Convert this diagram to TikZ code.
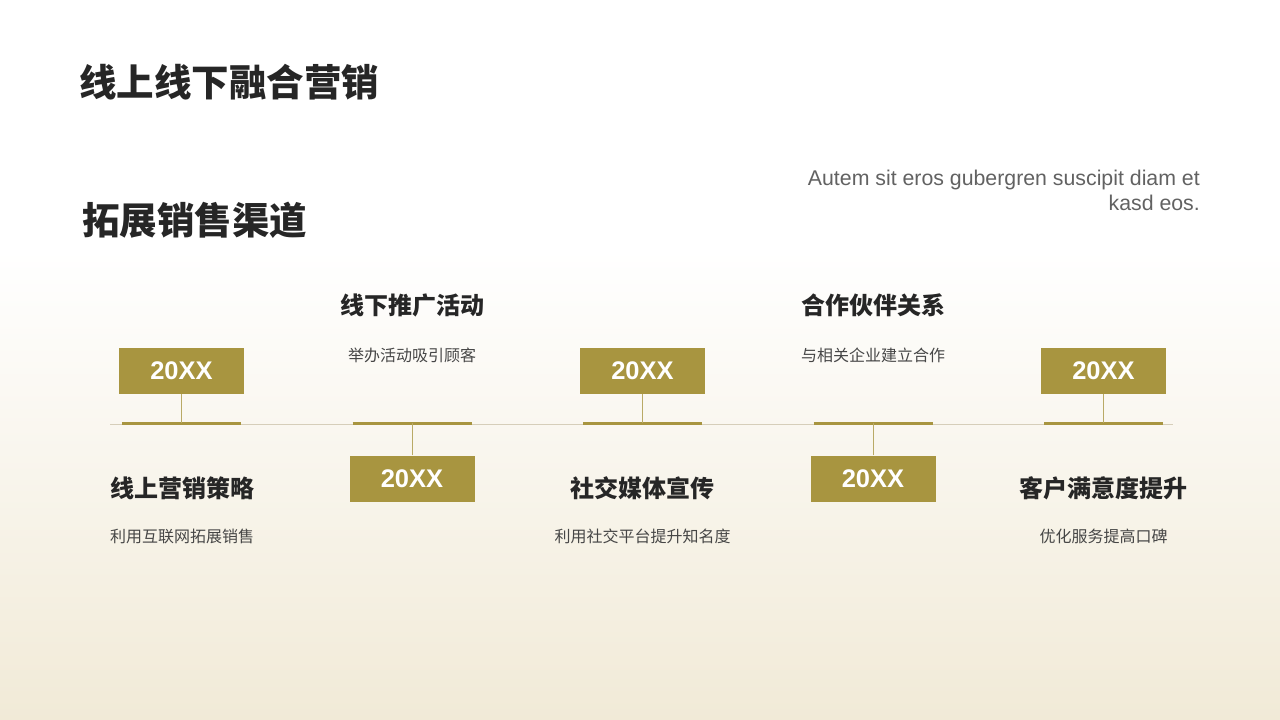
\documentclass[tikz,border=0pt]{standalone}
\usepackage{fontspec}
\setmainfont{Liberation Sans}
\newfontfamily\cjk{Noto Sans CJK SC}
\usetikzlibrary{positioning}

\definecolor{gold}{RGB}{168,149,64}
\definecolor{paleline}{RGB}{214,206,186}
\definecolor{cream}{RGB}{241,234,215}
\definecolor{ink}{RGB}{38,38,38}
\definecolor{softink}{RGB}{70,70,70}

\begin{document}
\begin{tikzpicture}[x=1pt,y=-1pt]
\tikzstyle{yearbox}=[fill=gold,text=white,minimum width=125pt,minimum height=46pt,
  inner sep=0pt,font=\fontsize{25.5}{25.5}\selectfont\bfseries]
\tikzstyle{itemtitle}=[text=ink,inner sep=0pt,font=\cjk\fontsize{24}{24}\selectfont\bfseries]
\tikzstyle{itemtext}=[text=softink,inner sep=0pt,font=\cjk\fontsize{16}{16}\selectfont]
\tikzstyle{bar}=[draw=gold,line width=3pt]
\tikzstyle{link}=[draw=gold!80,line width=0.8pt]

%% Background
\fill[white] (0,0) rectangle (1280,250);
\shade[top color=white,bottom color=cream] (0,250) rectangle (1280,720);
\useasboundingbox (0,0) rectangle (1280,720);

%% Titles
\node[anchor=west,inner sep=0pt,text=ink,font=\cjk\fontsize{37.5}{37.5}\selectfont\bfseries]
  (title) at (79,82) {线上线下融合营销};
\node[anchor=west,inner sep=0pt,text=ink,font=\cjk\fontsize{37.5}{37.5}\selectfont\bfseries]
  (heading) at (82,220) {拓展销售渠道};
\node[anchor=north east,align=right,inner sep=0pt,text=softink!85,
  font=\fontsize{21.3}{25}\selectfont] (intro) at (1200,170)
  {Autem sit eros gubergren suscipit diam et\\kasd eos.};

%% Timeline
\coordinate (lineleft) at (110,424);
\coordinate (lineright) at (1173,424);
\draw[paleline,line width=1pt] (lineleft) -- (lineright);

\foreach \i/\cx/\cy in {1/181.5/371,2/412/478.5,3/642.5/371,4/873/478.5,5/1103.5/371}
{
    \coordinate (seg\i) at (\cx,423);
    \draw[bar] ([xshift=-59.5pt]seg\i) -- ([xshift=59.5pt]seg\i);
    \node[yearbox] (box\i) at (\cx,\cy) {20XX};
    \draw[link] (box\i) -- (seg\i);
}

%% Labels above the line
\node[itemtitle] (title2) at (412,305) {线下推广活动};
\node[itemtext] (text2) at (412,355) {举办活动吸引顾客};
\node[itemtitle] (title4) at (873,305) {合作伙伴关系};
\node[itemtext] (text4) at (873,355) {与相关企业建立合作};

%% Labels below the line
\node[itemtitle] (title1) at (182,488) {线上营销策略};
\node[itemtext] (text1) at (182,536) {利用互联网拓展销售};
\node[itemtitle] (title3) at (642.5,488) {社交媒体宣传};
\node[itemtext] (text3) at (642.5,536) {利用社交平台提升知名度};
\node[itemtitle] (title5) at (1103.5,488) {客户满意度提升};
\node[itemtext] (text5) at (1103.5,536) {优化服务提高口碑};
\end{tikzpicture}
\end{document}
